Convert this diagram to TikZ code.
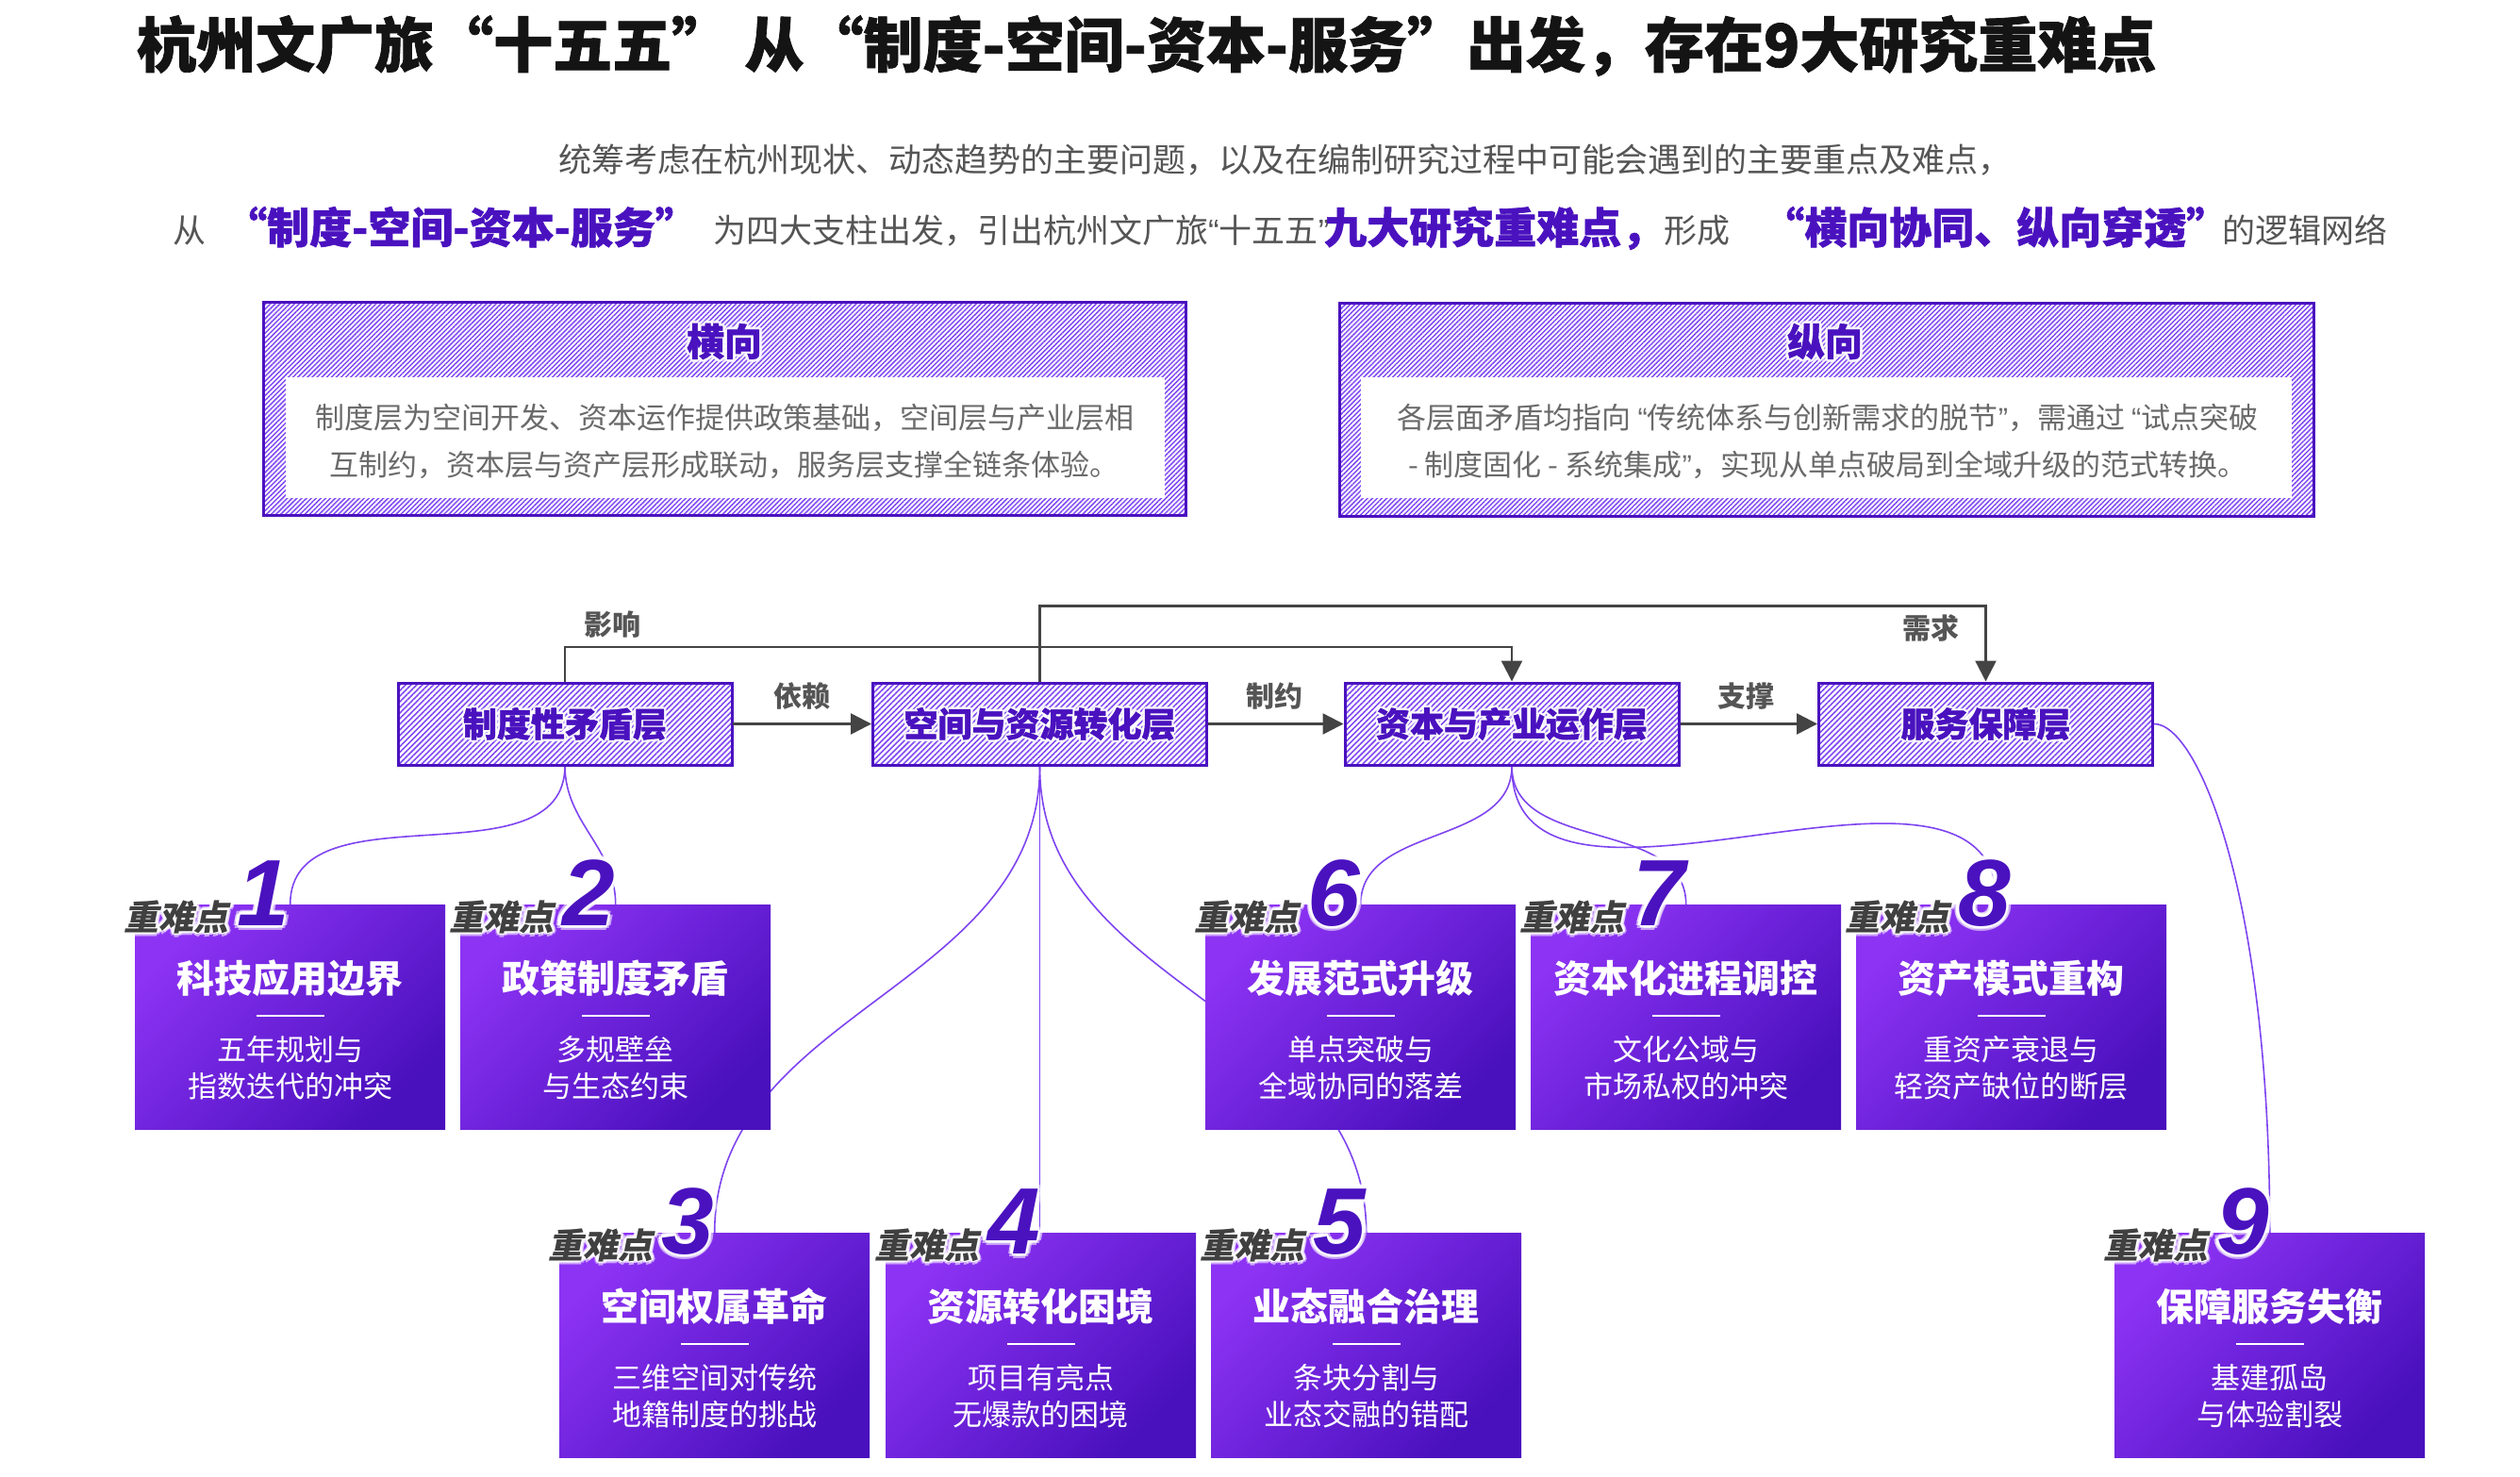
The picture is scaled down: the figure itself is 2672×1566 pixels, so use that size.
\documentclass[tikz,border=0pt]{standalone}
\usepackage{fontspec}
\setmainfont{Noto Sans CJK SC}
\newfontfamily\slfont{Noto Sans CJK SC}[FakeSlant=0.2]
\newfontfamily\heavyfont{Noto Sans CJK SC}[BoldFeatures={FakeBold=1.2}]
\newfontfamily\digfont{Liberation Sans}
\usetikzlibrary{patterns.meta,arrows.meta,calc}
\pgfdeclarelayer{back}
\pgfdeclarelayer{curves}
\pgfsetlayers{back,curves,main}
\definecolor{pdark}{HTML}{4A12BF}
\definecolor{hatchc}{HTML}{8149F2}
\definecolor{curvec}{HTML}{7E44F0}
\definecolor{clight}{HTML}{8D33F4}
\definecolor{cdark}{HTML}{4910BD}
\definecolor{gtext}{HTML}{555555}
\definecolor{htext}{HTML}{6A6A6A}
\definecolor{arrc}{HTML}{444444}
\definecolor{lblc}{HTML}{404040}
\definecolor{titc}{HTML}{141414}
\tikzset{
  hdrbox/.style={draw=pdark, line width=3pt, pattern={Lines[angle=45,distance=3.6pt,line width=1.5pt]}, pattern color=hatchc, anchor=north west, inner sep=0pt},
  hdrin/.style={fill=white, anchor=north west, inner sep=0pt},
  hdrtitle/.style={text=pdark, font=\heavyfont\bfseries\fontsize{40}{44}\selectfont, inner sep=0pt},
  hdrbody/.style={text=htext, font=\fontsize{31}{50}\selectfont, align=center, inner sep=0pt},
  laybox/.style={draw=pdark, line width=3pt, pattern={Lines[angle=45,distance=4.2pt,line width=1.6pt]}, pattern color=hatchc, minimum width=354pt, minimum height=87pt, inner sep=0pt},
  laytext/.style={text=pdark, font=\heavyfont\bfseries\fontsize{36}{40}\selectfont, inner sep=0pt},
  arrlbl/.style={text=gtext, font=\bfseries\fontsize{30}{34}\selectfont, inner sep=0pt},
  arr/.style={draw=arrc, line width=2.5pt, -{Triangle[length=22pt,width=22pt]}},
  curve/.style={draw=curvec, line width=1.6pt},
  card/.style={anchor=north west, minimum width=329pt, minimum height=238pt, inner sep=0pt, top color=clight, bottom color=cdark, shading angle=45},
  cardtitle/.style={text=white, font=\bfseries\fontsize{40}{44}\selectfont, inner sep=0pt},
  carddesc/.style={text=white, font=\fontsize{31}{39}\selectfont, align=center, inner sep=0pt},
  lbl/.style={text=lblc, font=\slfont\bfseries\fontsize{37}{40}\selectfont, inner sep=0pt},
  dig/.style={text=pdark, font=\digfont\bfseries\itshape\fontsize{100}{100}\selectfont, inner sep=0pt},
  sgray/.style={text=gtext, font=\fontsize{35}{40}\selectfont, inner sep=0pt, anchor=base west},
  spurple/.style={text=pdark, font=\heavyfont\bfseries\fontsize{45}{48}\selectfont, inner sep=0pt, anchor=base west}
}
% #1 name, #2 options, #3 coordinate, #4 outer radius, #5 inner radius, #6 text
\newcommand\myglow[6]{%
  \foreach \a in {0,45,...,315}{%
    \node[#2,text=white,text opacity=0.55] at ($(#3)+(\a:#4)$) {#6};
    \node[#2,text=white] at ($(#3)+(\a+22.5:#5)$) {#6};}
  \node[#2] (#1) at (#3) {#6};}
% #1 name, #2 x, #3 y, #4 digit, #5 title, #6 line1, #7 line2
\newcommand\mkcard[7]{%
  \node[card] (#1) at (#2,#3) {};
  \node[cardtitle] (#1t) at ($(#1.north)+(0,78)$) {#5};
  \draw[white,line width=1.6pt] ($(#1.north)+(-36,118)$) -- ($(#1.north)+(36,118)$);
  \node[carddesc] (#1d) at ($(#1.north)+(0,173.5)$) {#6\\#7};
  \coordinate (#1L) at ($(#1.north west)+(-12,27)$);
  \coordinate (#1D) at ($(#1.north west)+(108,22)$);
  \myglow{#1lab}{lbl,anchor=base west}{#1L}{4pt}{2pt}{重难点}
  \myglow{#1num}{dig,anchor=base west}{#1D}{5pt}{2.5pt}{#4}
}
\begin{document}
\begin{tikzpicture}[x=1pt,y=-1pt]
\useasboundingbox (0,0) rectangle (2672,1566);
\begin{pgfonlayer}{back}
\fill[white] (0,0) rectangle (2672,1566);
\end{pgfonlayer}

% title and subtitle
\node[anchor=base west, text=titc, font=\heavyfont\bfseries\fontsize{63}{70}\selectfont, inner sep=0pt] (title) at (145,71) {杭州文广旅“十五五” 从“制度-空间-资本-服务”出发，存在9大研究重难点};
\node[sgray] (sub1) at (592,182) {统筹考虑在杭州现状、动态趋势的主要问题，以及在编制研究过程中可能会遇到的主要重点及难点，};
\node[sgray] (s1) at (183,257) {从};
\node[spurple] (s2) at (238,258) {“制度-空间-资本-服务”};
\node[sgray] (s3) at (756,257) {为四大支柱出发，引出杭州文广旅{\digfont “}十五五{\digfont ”}};
\node[spurple] (s4) at (1404,258) {九大研究重难点，};
\node[sgray] (s5) at (1764,257) {形成};
\node[spurple] (s6) at (1868,258) {“横向协同、纵向穿透”};
\node[sgray] (s7) at (2356,257) {的逻辑网络};

% header boxes
\node[hdrbox, minimum width=978pt, minimum height=226pt] (h1) at (279,320) {};
\node[hdrin, minimum width=932pt, minimum height=128pt] (h1i) at (303,400) {};
\myglow{h1t}{hdrtitle}{768,362}{3pt}{1.5pt}{横向}
\node[hdrbody] (h1b) at (768,468) {制度层为空间开发、资本运作提供政策基础，空间层与产业层相\\互制约，资本层与资产层形成联动，服务层支撑全链条体验。};

\node[hdrbox, minimum width=1033pt, minimum height=226pt] (h2) at (1419,320) {};
\node[hdrin, minimum width=987pt, minimum height=128pt] (h2i) at (1443,400) {};
\myglow{h2t}{hdrtitle}{1935,362}{3pt}{1.5pt}{纵向}
\node[hdrbody] (h2b) at (1938,468) {各层面矛盾均指向 {\digfont “}传统体系与创新需求的脱节{\digfont ”}，需通过 {\digfont “}试点突破\\- 制度固化 - 系统集成{\digfont ”}，实现从单点破局到全域升级的范式转换。};

% layer boxes
\node[laybox] (L1) at (599,767.5) {};
\node[laybox] (L2) at (1102.5,767.5) {};
\node[laybox] (L3) at (1603,767.5) {};
\node[laybox] (L4) at (2105.5,767.5) {};
\myglow{L1t}{laytext}{L1}{2.5pt}{1.2pt}{制度性矛盾层}
\myglow{L2t}{laytext}{L2}{2.5pt}{1.2pt}{空间与资源转化层}
\myglow{L3t}{laytext}{L3}{2.5pt}{1.2pt}{资本与产业运作层}
\myglow{L4t}{laytext}{L4}{2.5pt}{1.2pt}{服务保障层}

% gray connectors
\draw[arr] (L1.east) -- (L2.west);
\draw[arr] (L2.east) -- (L3.west);
\draw[arr] (L3.east) -- (L4.west);
\draw[arr] (L1.north) -- ++(0,-37) -| (L3.north);
\draw[arr] (L2.north) -- ++(0,-80) -| (L4.north);
\node[arrlbl] (a1) at (850,738) {依赖};
\node[arrlbl] (a2) at (1351,738) {制约};
\node[arrlbl] (a3) at (1851,738) {支撑};
\node[arrlbl] (a4) at (649,662) {影响};
\node[arrlbl] (a5) at (2047,666) {需求};

% cards
\mkcard{c1}{143}{959}{1}{科技应用边界}{五年规划与}{指数迭代的冲突}
\mkcard{c2}{488}{959}{2}{政策制度矛盾}{多规壁垒}{与生态约束}
\mkcard{c6}{1278}{959}{6}{发展范式升级}{单点突破与}{全域协同的落差}
\mkcard{c7}{1623}{959}{7}{资本化进程调控}{文化公域与}{市场私权的冲突}
\mkcard{c8}{1968}{959}{8}{资产模式重构}{重资产衰退与}{轻资产缺位的断层}
\mkcard{c3}{593}{1307}{3}{空间权属革命}{三维空间对传统}{地籍制度的挑战}
\mkcard{c4}{939}{1307}{4}{资源转化困境}{项目有亮点}{无爆款的困境}
\mkcard{c5}{1284}{1307}{5}{业态融合治理}{条块分割与}{业态交融的错配}
\mkcard{c9}{2242}{1307}{9}{保障服务失衡}{基建孤岛}{与体验割裂}

% purple curves (behind cards)
\begin{pgfonlayer}{curves}
\draw[curve] (L1.south) .. controls ($(L1.south)+(0,128)$) and ($(c1.north)+(0,-128)$) .. (c1.north);
\draw[curve] (L1.south) .. controls ($(L1.south)+(0,61)$) and ($(c2.north)+(0,-61)$) .. (c2.north);
\draw[curve] (L2.south) .. controls ($(L2.south)+(0,236)$) and ($(c3.north)+(0,-236)$) .. (c3.north);
\draw[curve] (L2.south) -- (L2.south |- c4.north);
\draw[curve] (L2.south) .. controls ($(L2.south)+(0,237)$) and ($(c5.north)+(0,-237)$) .. (c5.north);
\draw[curve] (L3.south) .. controls ($(L3.south)+(0,85)$) and ($(c6.north)+(0,-85)$) .. (c6.north);
\draw[curve] (L3.south) .. controls ($(L3.south)+(0,93)$) and ($(c7.north)+(0,-93)$) .. (c7.north);
\draw[curve] (L3.south) .. controls ($(L3.south)+(0,215)$) and ($(c8.north)+(-15,-215)$) .. ($(c8.north)+(-15,0)$);
\draw[curve] (L4.east) .. controls ($(L4.east)+(47,0)$) and ($(c9.north)+(0,-357)$) .. (c9.north);
\end{pgfonlayer}
\end{tikzpicture}
\end{document}
